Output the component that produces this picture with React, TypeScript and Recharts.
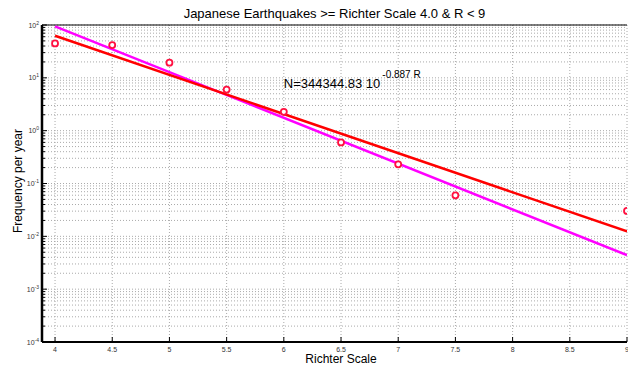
import React from 'react';
import {
  ComposedChart, Line, Scatter, XAxis, YAxis, CartesianGrid,
  ReferenceLine, ReferenceDot
} from 'recharts';

// observed yearly frequency per magnitude bin
const richter = [4, 4.5, 5, 5.5, 6, 6.5, 7, 7.5, 9];
const frequency = [44.8, 41.6, 19.4, 6.0, 2.27, 0.6, 0.231, 0.0596, 0.0303];

const fitEnds = [4, 9];
const redFit = [62.5, 0.0124];
const magentaFit = [94.4, 0.0044];

const xTicks = [4, 4.5, 5, 5.5, 6, 6.5, 7, 7.5, 8, 8.5, 9];
const exponents = [-4, -3, -2, -1, 0, 1, 2];
const minorSteps = [1, 2, 3, 4, 5, 6, 7, 8, 9];

const points = richter.map((r, i) => ({ r, f: frequency[i] }));
const redLine = fitEnds.map((r, i) => ({ r, v: redFit[i] }));
const magentaLine = fitEnds.map((r, i) => ({ r, v: magentaFit[i] }));

const yTicks: number[] = [];
exponents.forEach(e => {
  if (e === 2) { yTicks.push(100); return; }
  minorSteps.forEach(s => yTicks.push(s * Math.pow(10, e)));
});

const font = '"Liberation Sans", Arial, sans-serif';

const YTick = (props: any) => {
  const { x, y, payload } = props;
  const lg = Math.log10(payload.value);
  const exp = Math.round(lg);
  const major = Math.abs(lg - exp) < 1e-6;
  return (
    <g>
      <line x1={x} x2={x + (major ? 5 : 3)} y1={y} y2={y} stroke="#000" />
      {major && (
        <text x={x - 3} y={y + 2.5} textAnchor="end" fontSize={7} fill="#333" fontFamily={font}>
          10<tspan dy={-3} fontSize={5}>{exp}</tspan>
        </text>
      )}
    </g>
  );
};

const XTick = (props: any) => {
  const { x, y, payload } = props;
  return (
    <g>
      <line x1={x} x2={x} y1={y} y2={y - 5} stroke="#000" />
      <text x={x} y={y + 10} textAnchor="middle" fontSize={7} fill="#333" fontFamily={font}>
        {payload.value}
      </text>
    </g>
  );
};

const Dot = (p: any) => (
  <circle cx={p.cx} cy={p.cy} r={3} fill="#fff" stroke="#ff1040" strokeWidth={1.8} />
);

const Annotation = (p: any) => {
  const { x, y } = p.viewBox;
  return (
    <text x={x} y={y} fontSize={13} fill="#000" fontFamily={font}>
      N=344344.83 10
      <tspan dx={2} dy={-10} fontSize={10}>-0.887 R</tspan>
    </text>
  );
};

export default function App() {
  return (
    <div style={{ position: 'relative', width: 628, height: 366, background: '#fff', fontFamily: font }}>
      <style>{'body{margin:0}'}</style>
      <div style={{ position: 'absolute', left: 42, width: 585, top: 6, textAlign: 'center', fontSize: 13, lineHeight: '15px' }}>
        Japanese Earthquakes &gt;= Richter Scale 4.0 &amp; R &lt; 9
      </div>
      <div style={{ position: 'absolute', left: 42, width: 598, top: 353, textAlign: 'center', fontSize: 12, lineHeight: '13px' }}>
        Richter Scale
      </div>
      <div style={{
        position: 'absolute', left: 18, top: 181, fontSize: 12, lineHeight: '13px', whiteSpace: 'nowrap',
        transform: 'translate(-50%, -50%) rotate(-90deg)'
      }}>
        Frequency per year
      </div>
      <ComposedChart
        width={628}
        height={366}
        margin={{ top: 25, right: 1, left: 0, bottom: 0 }}
        style={{ position: 'absolute', left: 0, top: 0 }}
      >
        <CartesianGrid
          stroke="#aaa"
          strokeDasharray="1 2"
          verticalValues={xTicks}
          horizontalValues={yTicks}
        />
        <XAxis
          dataKey="r"
          type="number"
          domain={[3.886, 9]}
          allowDataOverflow
          ticks={xTicks}
          interval={0}
          height={24}
          tickSize={0}
          tickMargin={0}
          tickLine={false}
          tick={<XTick />}
          axisLine={{ stroke: '#000', strokeWidth: 2 }}
        />
        <YAxis
          type="number"
          scale="log"
          domain={[1e-4, 100]}
          allowDataOverflow
          ticks={yTicks}
          interval={0}
          width={42}
          tickSize={0}
          tickMargin={0}
          tickLine={false}
          tick={<YTick />}
          axisLine={{ stroke: '#000', strokeWidth: 2.5 }}
        />
        <ReferenceLine y={100} stroke="#000" />
        <Line data={magentaLine} dataKey="v" stroke="#ff00ff" strokeWidth={2.5} dot={false} isAnimationActive={false} />
        <Line data={redLine} dataKey="v" stroke="#ff0000" strokeWidth={2.5} dot={false} isAnimationActive={false} />
        <Scatter data={points} dataKey="f" shape={<Dot />} isAnimationActive={false} />
        <ReferenceDot x={6} y={6.5} r={0} label={<Annotation />} />
      </ComposedChart>
    </div>
  );
}
